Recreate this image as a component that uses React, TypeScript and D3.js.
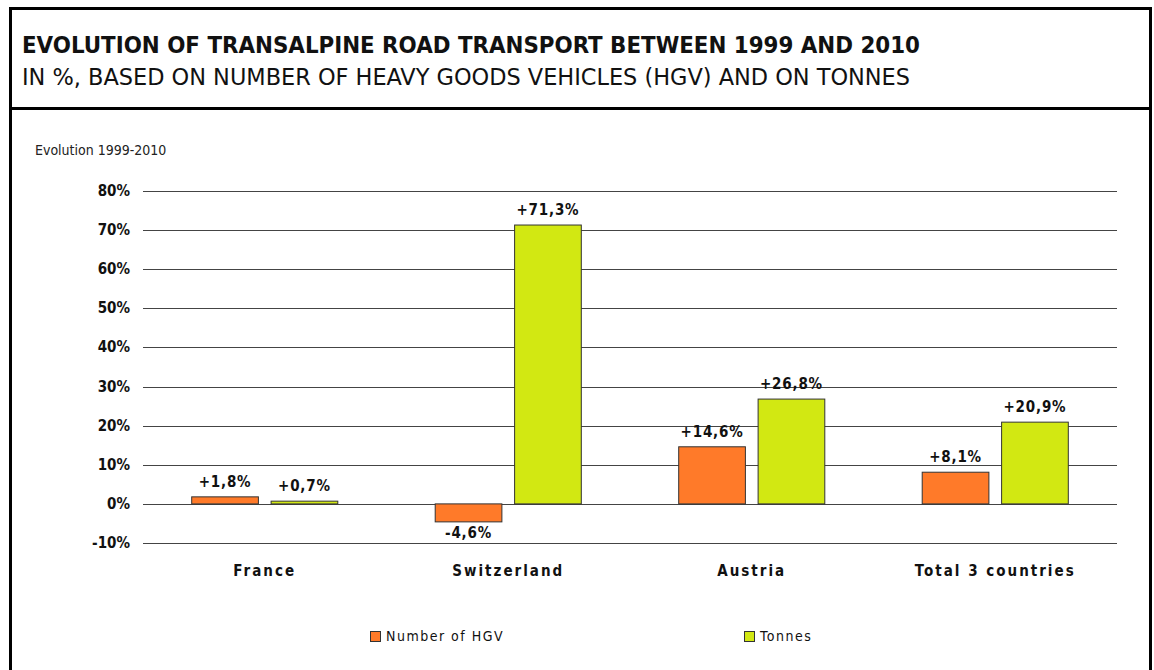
import React from "react";
import * as d3 from "d3";

const categories = ["France", "Switzerland", "Austria", "Total 3 countries"];
const seriesNames = ["Number of HGV", "Tonnes"];
const hgvValues = [1.8, -4.6, 14.6, 8.1];
const tonnesValues = [0.7, 71.3, 26.8, 20.9];
const valueLabelsHgv = ["+1,8%", "-4,6%", "+14,6%", "+8,1%"];
const valueLabelsTonnes = ["+0,7%", "+71,3%", "+26,8%", "+20,9%"];
const yTicks = [-10, 0, 10, 20, 30, 40, 50, 60, 70, 80];
const colors = ["#FF7A29", "#D2E812"];

const W = 1154;
const H = 670;
const font = "'DejaVu Sans Condensed', 'Liberation Sans Narrow', sans-serif";

export default function App() {
  const x0 = d3.scaleBand<string>().domain(categories).range([143, 1117]).paddingInner(0.4).paddingOuter(0.2);
  const x1 = d3.scaleBand<string>().domain(seriesNames).range([0, x0.bandwidth()]).paddingInner(0.16);
  const y = d3.scaleLinear().domain([-10, 80]).range([543, 191]);
  const series = [
    { name: seriesNames[0], values: hgvValues, labels: valueLabelsHgv, color: colors[0] },
    { name: seriesNames[1], values: tonnesValues, labels: valueLabelsTonnes, color: colors[1] },
  ];
  return (
    <svg width={W} height={H} style={{ position: "absolute", left: 0, top: 0, background: "#fff" }} fontFamily={font}>
      <rect x={10.5} y={8.5} width={1140} height={700} fill="none" stroke="#000" strokeWidth={3} />
      <line x1={10} x2={1151} y1={108.5} y2={108.5} stroke="#000" strokeWidth={3} />
      <text x={22} y={53} fontSize={23} fontWeight="bold" fill="#111" textLength={898} lengthAdjust="spacingAndGlyphs">EVOLUTION OF TRANSALPINE ROAD TRANSPORT BETWEEN 1999 AND 2010</text>
      <text x={22} y={85} fontSize={23} fill="#111" textLength={888} lengthAdjust="spacingAndGlyphs">IN %, BASED ON NUMBER OF HEAVY GOODS VEHICLES (HGV) AND ON TONNES</text>
      <text x={35} y={155} fontSize={14} fill="#222">Evolution 1999-2010</text>
      {yTicks.map((t) => (
        <g key={t}>
          <line x1={143} x2={1117} y1={Math.round(y(t)) + 0.5} y2={Math.round(y(t)) + 0.5} stroke="#444" strokeWidth={1} />
          <text x={130} y={y(t) + 5} textAnchor="end" fontSize={15} fontWeight="bold" fill="#111">{t}%</text>
        </g>
      ))}
      {series.map((s) =>
        categories.map((c, i) => {
          const v = s.values[i];
          const bx = (x0(c) as number) + (x1(s.name) as number);
          const top = y(Math.max(0, v));
          const h = Math.abs(y(v) - y(0));
          return (
            <g key={s.name + c}>
              <rect x={bx} y={top} width={x1.bandwidth()} height={h} fill={s.color} stroke="#333" strokeWidth={1} />
              <text
                x={bx + x1.bandwidth() / 2}
                y={v >= 0 ? y(v) - 10 : y(v) + 16}
                textAnchor="middle"
                fontSize={15}
                fontWeight="bold"
                letterSpacing={0.8}
                fill="#111"
              >
                {s.labels[i]}
              </text>
            </g>
          );
        })
      )}
      {categories.map((c) => (
        <text key={c} x={(x0(c) as number) + x0.bandwidth() / 2} y={576} textAnchor="middle" fontSize={15} fontWeight="bold" letterSpacing={2} fill="#111">
          {c}
        </text>
      ))}
      {series.map((s, i) => {
        const lx = i === 0 ? 370 : 744;
        return (
          <g key={s.name}>
            <rect x={lx + 0.5} y={631.5} width={10} height={10} fill={s.color} stroke="#333" strokeWidth={1} />
            <text x={lx + 16} y={641} fontSize={14} letterSpacing={1.5} fill="#111">{s.name}</text>
          </g>
        );
      })}
    </svg>
  );
}
